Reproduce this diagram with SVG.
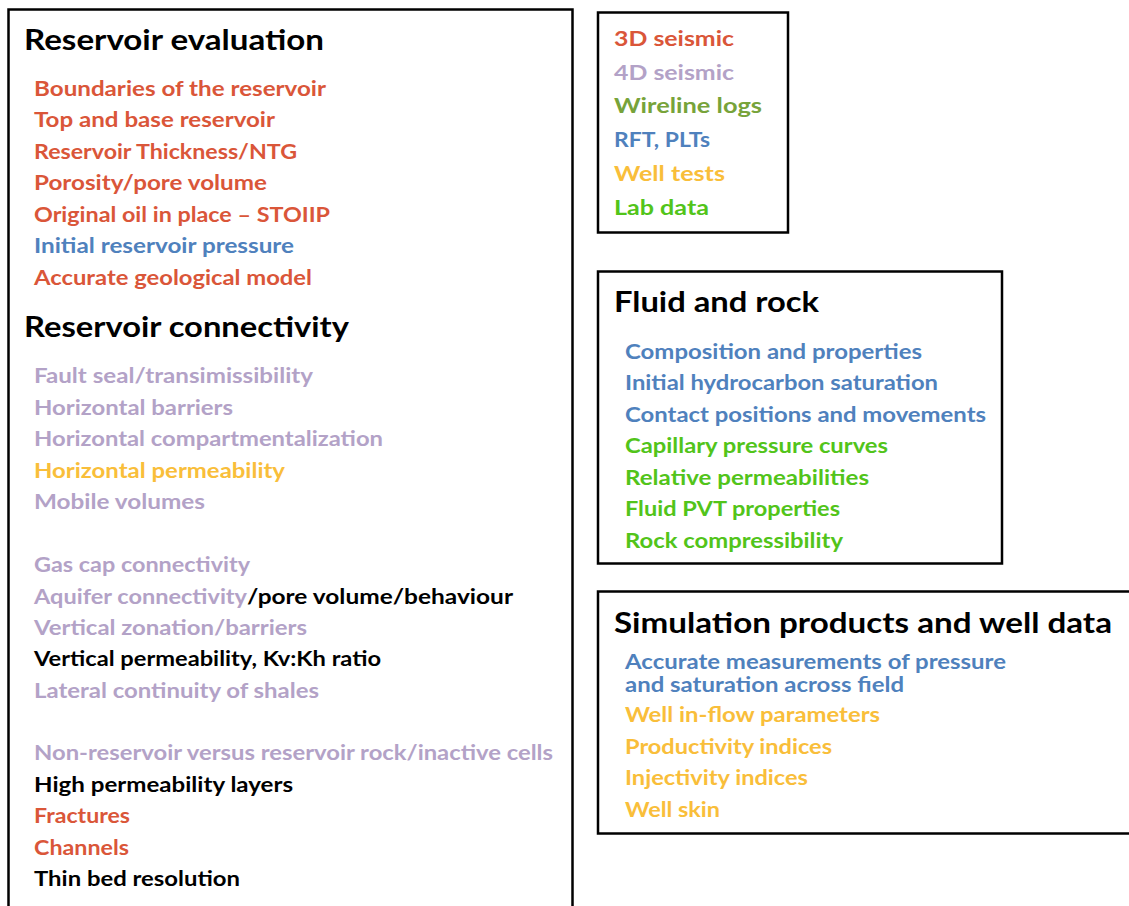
<svg xmlns="http://www.w3.org/2000/svg" width="1129" height="906" viewBox="0 0 1129 906">
  <style>
    .box { fill: #ffffff; stroke: #000000; stroke-width: 2.5; }
    text { font-family: "Lato", "Open Sans", "Liberation Sans", sans-serif; font-weight: 700; }
    .h { font-size: 29px; fill: #000000; }
    .t { font-size: 21px; }
    .s { font-size: 20px; }
    .red { fill: #DA5639; }
    .pur { fill: #B3A2C7; }
    .org { fill: #F9BE3A; }
    .blu { fill: #4F81BD; }
    .olv { fill: #77A33A; }
    .grn { fill: #52C41A; }
    .blk { fill: #000000; }
  </style>
  <rect width="1129" height="906" fill="#ffffff"/>

  <!-- Reservoir evaluation / connectivity panel -->
  <g id="reservoir">
    <rect class="box" x="8.5" y="9.5" width="564" height="920"/>
    <text class="h" x="24" y="50" textLength="300" lengthAdjust="spacingAndGlyphs">Reservoir evaluation</text>
    <text class="t red" x="34" y="96" textLength="292" lengthAdjust="spacingAndGlyphs">Boundaries of the reservoir</text>
    <text class="t red" x="34" y="127" textLength="241" lengthAdjust="spacingAndGlyphs">Top and base reservoir</text>
    <text class="t red" x="34" y="159" textLength="263" lengthAdjust="spacingAndGlyphs">Reservoir Thickness/NTG</text>
    <text class="t red" x="34" y="190" textLength="233" lengthAdjust="spacingAndGlyphs">Porosity/pore volume</text>
    <text class="t red" x="34" y="222" textLength="296" lengthAdjust="spacingAndGlyphs">Original oil in place – STOIIP</text>
    <text class="t blu" x="34" y="253" textLength="260" lengthAdjust="spacingAndGlyphs">Initial reservoir pressure</text>
    <text class="t red" x="34" y="285" textLength="278" lengthAdjust="spacingAndGlyphs">Accurate geological model</text>

    <text class="h" x="24" y="337" textLength="325" lengthAdjust="spacingAndGlyphs">Reservoir connectivity</text>
    <text class="t pur" x="34" y="383" textLength="279" lengthAdjust="spacingAndGlyphs">Fault seal/transimissibility</text>
    <text class="t pur" x="34" y="415" textLength="199" lengthAdjust="spacingAndGlyphs">Horizontal barriers</text>
    <text class="t pur" x="34" y="446" textLength="349" lengthAdjust="spacingAndGlyphs">Horizontal compartmentalization</text>
    <text class="t org" x="34" y="478" textLength="251" lengthAdjust="spacingAndGlyphs">Horizontal permeability</text>
    <text class="t pur" x="34" y="509" textLength="171" lengthAdjust="spacingAndGlyphs">Mobile volumes</text>

    <text class="t pur" x="34" y="572" textLength="216" lengthAdjust="spacingAndGlyphs">Gas cap connectivity</text>
    <text class="t pur" x="34" y="604" textLength="213" lengthAdjust="spacingAndGlyphs">Aquifer connectivity</text>
    <text class="t blk" x="247" y="604" textLength="266" lengthAdjust="spacingAndGlyphs">/pore volume/behaviour</text>
    <text class="t pur" x="34" y="635" textLength="273" lengthAdjust="spacingAndGlyphs">Vertical zonation/barriers</text>
    <text class="t blk" x="34" y="666" textLength="347" lengthAdjust="spacingAndGlyphs">Vertical permeability, Kv:Kh ratio</text>
    <text class="t pur" x="34" y="698" textLength="285" lengthAdjust="spacingAndGlyphs">Lateral continuity of shales</text>

    <text class="t pur" x="34" y="760" textLength="519" lengthAdjust="spacingAndGlyphs">Non-reservoir versus reservoir rock/inactive cells</text>
    <text class="t blk" x="34" y="792" textLength="259" lengthAdjust="spacingAndGlyphs">High permeability layers</text>
    <text class="t red" x="34" y="823" textLength="96" lengthAdjust="spacingAndGlyphs">Fractures</text>
    <text class="t red" x="34" y="855" textLength="95" lengthAdjust="spacingAndGlyphs">Channels</text>
    <text class="t blk" x="34" y="886" textLength="206" lengthAdjust="spacingAndGlyphs">Thin bed resolution</text>
  </g>

  <!-- Data sources panel -->
  <g id="sources">
    <rect class="box" x="598" y="12.5" width="190" height="220"/>
    <text class="t red" x="614" y="46" textLength="120" lengthAdjust="spacingAndGlyphs">3D seismic</text>
    <text class="t pur" x="614" y="80" textLength="120" lengthAdjust="spacingAndGlyphs">4D seismic</text>
    <text class="t olv" x="614" y="113" textLength="148" lengthAdjust="spacingAndGlyphs">Wireline logs</text>
    <text class="t blu" x="614" y="147" textLength="96" lengthAdjust="spacingAndGlyphs">RFT, PLTs</text>
    <text class="t org" x="614" y="181" textLength="111" lengthAdjust="spacingAndGlyphs">Well tests</text>
    <text class="t grn" x="614" y="215" textLength="95" lengthAdjust="spacingAndGlyphs">Lab data</text>
  </g>

  <!-- Fluid and rock panel -->
  <g id="fluid-rock">
    <rect class="box" x="598" y="271.5" width="404" height="292"/>
    <text class="h" x="614" y="312" textLength="205" lengthAdjust="spacingAndGlyphs">Fluid and rock</text>
    <text class="t blu" x="625" y="359" textLength="297" lengthAdjust="spacingAndGlyphs">Composition and properties</text>
    <text class="t blu" x="625" y="390" textLength="313" lengthAdjust="spacingAndGlyphs">Initial hydrocarbon saturation</text>
    <text class="t blu" x="625" y="422" textLength="361" lengthAdjust="spacingAndGlyphs">Contact positions and movements</text>
    <text class="t grn" x="625" y="453" textLength="263" lengthAdjust="spacingAndGlyphs">Capillary pressure curves</text>
    <text class="t grn" x="625" y="485" textLength="244" lengthAdjust="spacingAndGlyphs">Relative permeabilities</text>
    <text class="t grn" x="625" y="516" textLength="215" lengthAdjust="spacingAndGlyphs">Fluid PVT properties</text>
    <text class="t grn" x="625" y="548" textLength="218" lengthAdjust="spacingAndGlyphs">Rock compressibility</text>
  </g>

  <!-- Simulation products and well data panel -->
  <g id="simulation">
    <rect class="box" x="598" y="591.5" width="560" height="242"/>
    <text class="h" x="614" y="633" textLength="498" lengthAdjust="spacingAndGlyphs">Simulation products and well data</text>
    <text class="s blu" x="625" y="669" textLength="381" lengthAdjust="spacingAndGlyphs">Accurate measurements of pressure</text>
    <text class="s blu" x="625" y="692" textLength="279" lengthAdjust="spacingAndGlyphs">and saturation across field</text>
    <text class="t org" x="625" y="722" textLength="255" lengthAdjust="spacingAndGlyphs">Well in-flow parameters</text>
    <text class="t org" x="625" y="754" textLength="207" lengthAdjust="spacingAndGlyphs">Productivity indices</text>
    <text class="t org" x="625" y="785" textLength="183" lengthAdjust="spacingAndGlyphs">Injectivity indices</text>
    <text class="t org" x="625" y="817" textLength="95" lengthAdjust="spacingAndGlyphs">Well skin</text>
  </g>
</svg>
